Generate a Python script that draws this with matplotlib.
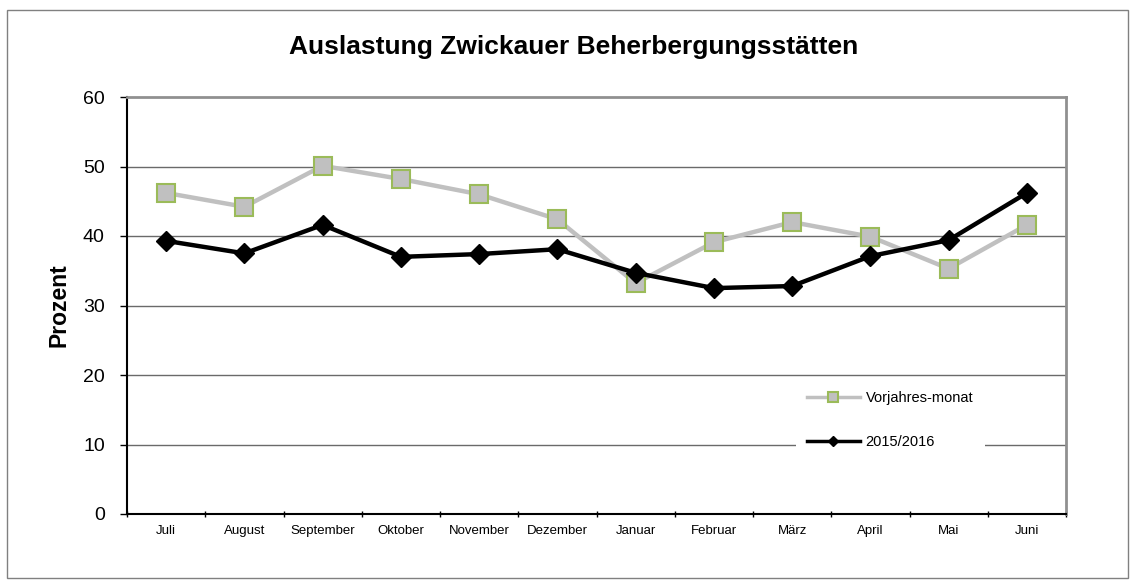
import matplotlib.pyplot as plt
from matplotlib.patches import Rectangle

plt.rcParams['font.family'] = ['Liberation Sans', 'DejaVu Sans']

months = ['Juli', 'August', 'September', 'Oktober', 'November', 'Dezember',
          'Januar', 'Februar', 'März', 'April', 'Mai', 'Juni']
vorjahr = [46.2, 44.2, 50.1, 48.2, 46.0, 42.4, 33.2, 39.1, 42.0, 39.9, 35.3, 41.6]
aktuell = [39.3, 37.5, 41.6, 37.0, 37.4, 38.1, 34.7, 32.5, 32.8, 37.1, 39.4, 46.2]
y_ticks = [0, 10, 20, 30, 40, 50, 60]

fig = plt.figure(figsize=(11.36, 5.85), dpi=100)
# outer frame of the chart area
fig.patches.append(Rectangle((7 / 1136, 7 / 585), 1121 / 1136, 568 / 585,
                             transform=fig.transFigure, fill=False,
                             edgecolor='#808080', lw=1))

ax = fig.add_axes([127 / 1136, 71 / 585, 939 / 1136, 417 / 585])
x = list(range(len(months)))

ax.plot(x, vorjahr, color='#C0C0C0', lw=3.2, marker='s', markersize=13,
        markerfacecolor='#C0C0C0', markeredgecolor='#9BBB59', markeredgewidth=1.5,
        label='Vorjahres-monat', zorder=3)
ax.plot(x, aktuell, color='black', lw=3.2, marker='D', markersize=10,
        label='2015/2016', zorder=4)

ax.set_xlim(-0.5, len(months) - 0.5)
ax.set_ylim(0, 60)
ax.set_yticks(y_ticks)
ax.set_yticklabels([str(v) for v in y_ticks], fontsize=14)
ax.set_xticks(x)
ax.set_xticklabels(months, fontsize=9.5)
ax.tick_params(axis='x', which='major', length=0, pad=8)
ax.set_xticks([i - 0.5 for i in range(len(months) + 1)], minor=True)
ax.tick_params(axis='x', which='minor', length=4, direction='inout', width=1)
ax.tick_params(axis='y', length=5, direction='out', width=1, pad=11)

for v in y_ticks[1:-1]:
    ax.axhline(v, color='#6a6a6a', lw=1, zorder=1)

for s in ['left', 'bottom']:
    ax.spines[s].set_color('black')
    ax.spines[s].set_linewidth(1.5)
for s in ['top', 'right']:
    ax.spines[s].set_color('#909090')
    ax.spines[s].set_linewidth(2)

ax.set_ylabel('Prozent', fontsize=16.5, fontweight='bold', labelpad=9)
fig.text(574 / 1136, 1 - 47 / 585, 'Auslastung Zwickauer Beherbergungsstätten',
         ha='center', va='center', fontsize=19, fontweight='bold')

# white legend box that hides part of the 10 % gridline
leg = ax.legend(loc='center left', bbox_to_anchor=(0.712, 0.225), fontsize=10.5,
                frameon=True, facecolor='white', edgecolor='none', framealpha=1,
                handlelength=3.6, labelspacing=2.05, markerscale=0.5,
                borderpad=0.8, borderaxespad=0, handletextpad=0.4)
for line in leg.get_lines():
    line.set_linewidth(2.5)
leg.set_zorder(5)

plt.savefig('out.png', dpi=100)
